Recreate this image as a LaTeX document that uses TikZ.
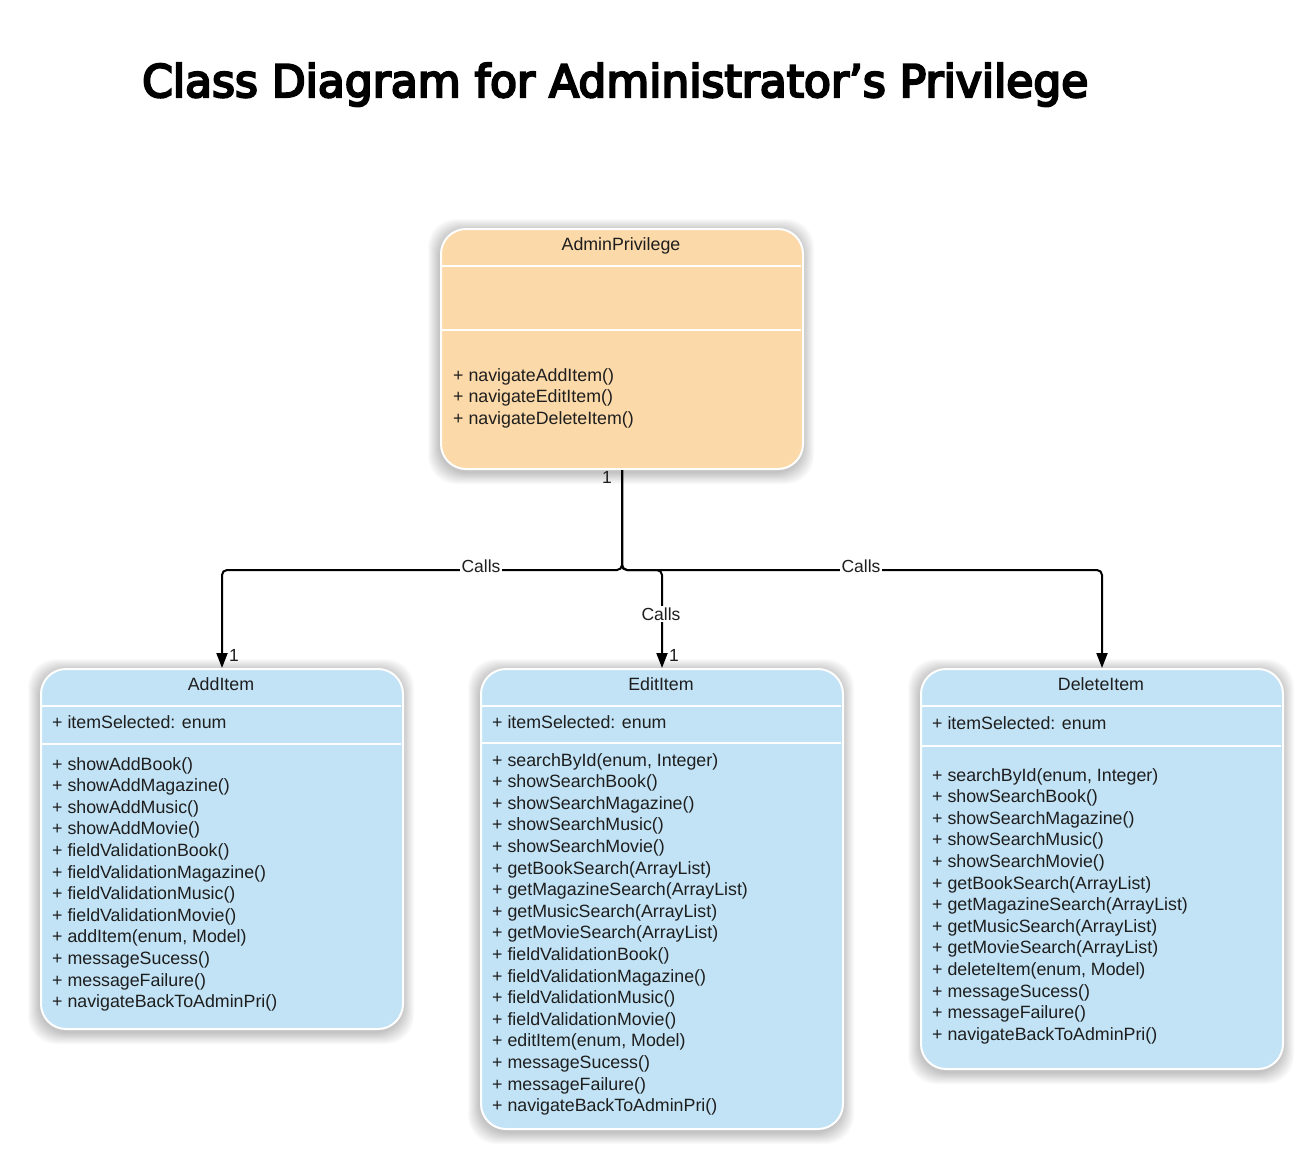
\documentclass[tikz,border=0pt]{standalone}
\usepackage{fontspec}
\setmainfont{Liberation Sans}
\newfontfamily\titlefont{DejaVu Sans}[FakeBold=5]
\usetikzlibrary{arrows.meta}
\definecolor{orangefill}{HTML}{FCD9A8}
\definecolor{bluefill}{HTML}{C2E3F5}
\definecolor{txtcol}{HTML}{1E1E1E}
\newcommand{\myshadow}[4]{%
  \foreach \k in {1,...,12}{%
    \fill[black, opacity=0.02, rounded corners=28pt] (#1-\k, #2-\k+3) rectangle (#3+\k, #4+\k+4);
  }%
}
\tikzset{
  txt/.style={inner sep=0pt, anchor=base west, font=\fontsize{17.8}{21.6}\selectfont, text=txtcol},
  ttl/.style={inner sep=0pt, anchor=base, font=\fontsize{17.8}{21.6}\selectfont, text=txtcol},
  lbl/.style={inner sep=1.5pt, fill=white, font=\fontsize{17.5}{20}\selectfont, text=txtcol},
  mult/.style={inner sep=0pt, font=\fontsize{17.5}{20}\selectfont, text=txtcol},
  classbox/.style={draw=white, line width=2pt, rounded corners=25pt, anchor=north west, inner sep=0pt},
  sep/.style={white, line width=2pt},
  conn/.style={line width=2pt, rounded corners=5pt, -{Triangle[length=15pt,width=11pt]}},
}
\begin{document}
\begin{tikzpicture}[x=1pt, y=-1pt]
\useasboundingbox (0,0) rectangle (1314,1168);
\fill[white] (0,0) rectangle (1314,1168);

% title
\node[inner sep=0pt, anchor=base west] (title) at (142,97)
  {\resizebox{946pt}{34pt}{\titlefont Class Diagram for Administrator’s Privilege}};

% shadows
\myshadow{440}{228}{802}{468}
\myshadow{40}{668}{402}{1028}
\myshadow{480}{668}{842}{1128}
\myshadow{920}{668}{1282}{1068}

% boxes
\node[classbox, fill=orangefill, minimum width=362pt, minimum height=240pt] (admin) at (440,228) {};
\node[classbox, fill=bluefill, minimum width=362pt, minimum height=360pt] (add) at (40,668) {};
\node[classbox, fill=bluefill, minimum width=362pt, minimum height=460pt] (edit) at (480,668) {};
\node[classbox, fill=bluefill, minimum width=362pt, minimum height=400pt] (del) at (920,668) {};

% separators
\draw[sep] (441,266) -- (801,266);
\draw[sep] (441,330) -- (801,330);
\draw[sep] (41,706) -- (401,706);
\draw[sep] (41,744) -- (401,744);
\draw[sep] (481,706) -- (841,706);
\draw[sep] (481,743) -- (841,743);
\draw[sep] (921,706) -- (1281,706);
\draw[sep] (921,746) -- (1281,746);

% AdminPrivilege text
\node[ttl] (adminT) at (621,250) {AdminPrivilege};
\foreach \t [count=\i] in {navigateAddItem(), navigateEditItem(), navigateDeleteItem()}
  \node[txt] (adminM\i) at (453, 381+21.6*\i-21.6) {+ \t};

% AddItem text
\node[ttl] (addT) at (221,690) {AddItem};
\node[txt] (addA) at (52,728) {+ itemSelected: enum};
\foreach \t [count=\i] in {showAddBook(), showAddMagazine(), showAddMusic(), showAddMovie(),
  fieldValidationBook(), fieldValidationMagazine(), fieldValidationMusic(), fieldValidationMovie(),
  {addItem(enum, Model)}, messageSucess(), messageFailure(), navigateBackToAdminPri()}
  \node[txt] (addM\i) at (52, 770+21.6*\i-21.6) {+ \t};

% EditItem text
\node[ttl] (editT) at (661,690) {EditItem};
\node[txt] (editA) at (492,728) {+ itemSelected: enum};
\foreach \t [count=\i] in {{searchById(enum, Integer)}, showSearchBook(), showSearchMagazine(), showSearchMusic(),
  showSearchMovie(), getBookSearch(ArrayList), getMagazineSearch(ArrayList), getMusicSearch(ArrayList),
  getMovieSearch(ArrayList), fieldValidationBook(), fieldValidationMagazine(), fieldValidationMusic(),
  fieldValidationMovie(), {editItem(enum, Model)}, messageSucess(), messageFailure(), navigateBackToAdminPri()}
  \node[txt] (editM\i) at (492, 766+21.6*\i-21.6) {+ \t};

% DeleteItem text
\node[ttl] (delT) at (1101,690) {DeleteItem};
\node[txt] (delA) at (932,729) {+ itemSelected: enum};
\foreach \t [count=\i] in {{searchById(enum, Integer)}, showSearchBook(), showSearchMagazine(), showSearchMusic(),
  showSearchMovie(), getBookSearch(ArrayList), getMagazineSearch(ArrayList), getMusicSearch(ArrayList),
  getMovieSearch(ArrayList), {deleteItem(enum, Model)}, messageSucess(), messageFailure(), navigateBackToAdminPri()}
  \node[txt] (delM\i) at (932, 781+21.6*\i-21.6) {+ \t};

% connectors
\draw[conn] (admin.south) -- ++(0,100) -| (add.north);
\draw[conn] (admin.south) -- ++(0,100) -| (edit.north);
\draw[conn] (admin.south) -- ++(0,100) -| (del.north);

% labels
\node[lbl] (c1) at (481,566) {Calls};
\node[lbl] (c2) at (661,614) {Calls};
\node[lbl] (c3) at (861,566) {Calls};
\node[mult] (m0) at (607,477) {1};
\node[mult] (m1) at (234,655) {1};
\node[mult] (m2) at (674,655) {1};
\end{tikzpicture}
\end{document}
